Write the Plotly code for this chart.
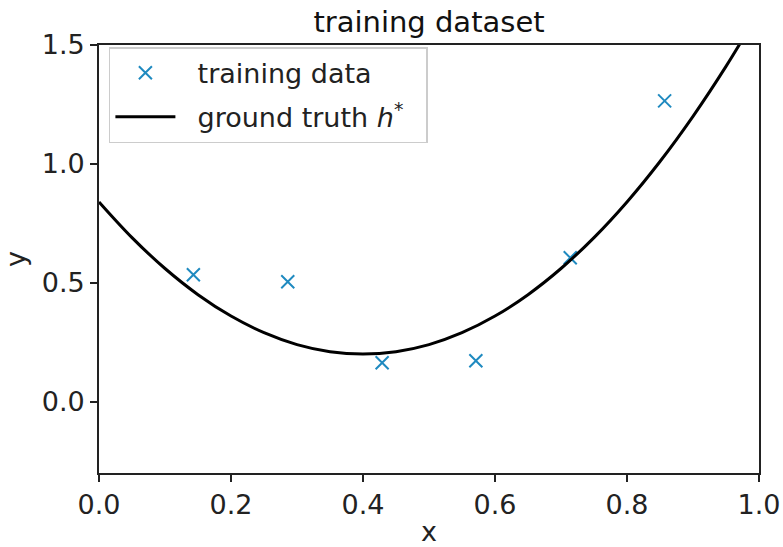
import plotly.graph_objects as go

# training data
train_x = [0.143, 0.286, 0.429, 0.571, 0.714, 0.857]
train_y = [0.534, 0.504, 0.164, 0.172, 0.605, 1.265]

# ground truth curve h*
curve_x = [0.0, 0.05, 0.1, 0.15, 0.2, 0.25, 0.3, 0.35, 0.4, 0.45, 0.5,
           0.55, 0.6, 0.65, 0.7, 0.75, 0.8, 0.85, 0.9, 0.95, 1.0]
curve_y = [0.84, 0.69, 0.56, 0.45, 0.36, 0.29, 0.24, 0.21, 0.20, 0.21, 0.24,
           0.29, 0.36, 0.45, 0.56, 0.69, 0.84, 1.01, 1.20, 1.41, 1.64]

x_ticks = [0.0, 0.2, 0.4, 0.6, 0.8, 1.0]
y_ticks = [0.0, 0.5, 1.0, 1.5]

FONT = "DejaVu Sans"
BLUE = "#1f8ac0"
NB = "\u00a0"

fig = go.Figure()
fig.add_trace(go.Scatter(
    x=train_x, y=train_y, mode="markers", name=NB * 2 + "training data",
    legendgroup="a",
    marker=dict(symbol="x-thin", size=13, line=dict(width=2, color=BLUE), color=BLUE),
))
fig.add_trace(go.Scatter(
    x=curve_x, y=curve_y, mode="lines",
    name=NB * 2 + "ground truth <i>h</i><sup>*</sup>" + NB * 2,
    legendgroup="b",
    line=dict(color="black", width=3, shape="spline"),
))

axis_common = dict(
    showgrid=False, zeroline=False, showline=True, mirror=True, automargin=False,
    linecolor="#222", linewidth=1.6, ticks="outside", ticklen=7, tickwidth=1.6,
    tickcolor="#222", tickfont=dict(family=FONT, size=27, color="#222"),
)
fig.update_xaxes(range=[0, 1], tickvals=x_ticks, ticktext=[f"{v:.1f}" for v in x_ticks],
                 title=dict(text="x", font=dict(family=FONT, size=27, color="#222"), standoff=12),
                 **axis_common)
fig.update_yaxes(range=[-0.3, 1.5], tickvals=y_ticks, ticktext=[f"{v:.1f}" for v in y_ticks],
                 title=dict(text="y", font=dict(family=FONT, size=27, color="#222"), standoff=12),
                 **axis_common)

fig.update_layout(
    width=783, height=547,
    margin=dict(l=99, r=24, t=45, b=74),
    paper_bgcolor="white", plot_bgcolor="white",
    title=dict(text="training dataset", x=0.5 * (99 + 759) / 783, xanchor="center",
               y=1 - 22 / 547, yanchor="middle",
               font=dict(family=FONT, size=29, color="#111")),
    font=dict(family=FONT, color="#222"),
    showlegend=True,
    legend=dict(x=0.015, y=0.995, xanchor="left", yanchor="top",
                bgcolor="rgba(255,255,255,0.85)", bordercolor="#ccc", borderwidth=1.5,
                font=dict(family=FONT, size=27, color="#222"), itemwidth=60,
                tracegroupgap=6),
)

fig.write_html("out.html")
